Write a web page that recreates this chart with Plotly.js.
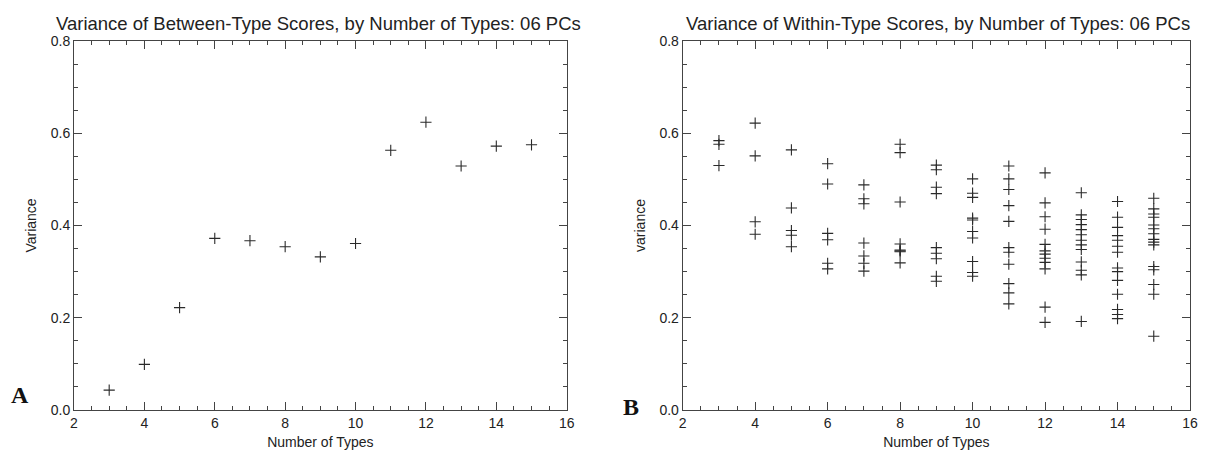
<!DOCTYPE html>
<html>
<head>
<meta charset="utf-8">
<script src="https://cdn.plot.ly/plotly-3.0.1.min.js"></script>
<style>html,body{margin:0;padding:0;background:#fff;}#chart{width:1222px;height:461px;}</style>
</head>
<body>
<div id="chart"></div>
<script>
// Panel A: variance of between-type scores
const typesA = [3, 4, 5, 6, 7, 8, 9, 10, 11, 12, 13, 14, 15];
const betweenVariance = [0.043, 0.099, 0.222, 0.372, 0.367, 0.354, 0.332, 0.361, 0.563, 0.624, 0.529, 0.572, 0.575];

// Panel B: variance of within-type scores (one value per type)
const within3 = [0.584, 0.576, 0.530];
const within4 = [0.622, 0.551, 0.408, 0.381];
const within5 = [0.564, 0.438, 0.389, 0.379, 0.354];
const within6 = [0.534, 0.490, 0.383, 0.369, 0.318, 0.306];
const within7 = [0.488, 0.458, 0.447, 0.362, 0.334, 0.318, 0.301];
const within8 = [0.576, 0.558, 0.451, 0.360, 0.347, 0.345, 0.343, 0.319];
const within9 = [0.531, 0.521, 0.483, 0.469, 0.352, 0.340, 0.328, 0.290, 0.279];
const within10 = [0.501, 0.470, 0.461, 0.416, 0.412, 0.387, 0.373, 0.322, 0.298, 0.290];
const within11 = [0.529, 0.501, 0.478, 0.443, 0.409, 0.352, 0.342, 0.316, 0.274, 0.254, 0.230];
const within12 = [0.514, 0.449, 0.419, 0.392, 0.359, 0.345, 0.338, 0.329, 0.320, 0.306, 0.223, 0.190];
const within13 = [0.471, 0.423, 0.413, 0.402, 0.391, 0.380, 0.368, 0.358, 0.348, 0.321, 0.303, 0.293, 0.192];
const within14 = [0.452, 0.418, 0.396, 0.378, 0.368, 0.355, 0.342, 0.308, 0.300, 0.281, 0.251, 0.218, 0.207, 0.198];
const within15 = [0.459, 0.436, 0.425, 0.418, 0.401, 0.393, 0.382, 0.370, 0.364, 0.358, 0.311, 0.304, 0.272, 0.251, 0.160];
const withinByType = {3: within3, 4: within4, 5: within5, 6: within6, 7: within7, 8: within8, 9: within9,
  10: within10, 11: within11, 12: within12, 13: within13, 14: within14, 15: within15};

const titleA = 'Variance of Between-Type Scores, by Number of Types: 06 PCs';
const titleB = 'Variance of Within-Type Scores, by Number of Types: 06 PCs';
const xTitle = 'Number of Types';
const yTitleA = 'Variance';
const yTitleB = 'variance';
const xTicks = [2, 4, 6, 8, 10, 12, 14, 16];
const yTicks = [0.0, 0.2, 0.4, 0.6, 0.8];
const yTickText = ['0.0', '0.2', '0.4', '0.6', '0.8'];

const bx = [], by = [];
Object.keys(withinByType).forEach(k => {
  withinByType[k].forEach(v => { bx.push(Number(k)); by.push(v); });
});

const markerStyle = {symbol: 'cross-thin', size: 8, line: {width: 1.1, color: '#2a2a2a'}, color: '#2a2a2a'};
const font = {family: 'Liberation Sans, Arial, sans-serif', color: '#222'};

const traces = [
  {x: typesA, y: betweenVariance, type: 'scatter', mode: 'markers', marker: markerStyle, xaxis: 'x', yaxis: 'y', hoverinfo: 'x+y'},
  {x: bx, y: by, type: 'scatter', mode: 'markers', marker: markerStyle, xaxis: 'x2', yaxis: 'y2', hoverinfo: 'x+y'}
];

function xax(domain, anchor) {
  return {
    domain: domain, anchor: anchor, range: [2, 16], tickvals: xTicks, ticktext: xTicks.map(String),
    ticks: 'inside', ticklen: 8, tickwidth: 1, tickcolor: '#444', mirror: 'ticks',
    minor: {dtick: 0.5, tick0: 2, ticks: 'inside', ticklen: 4, tickcolor: '#444', tickwidth: 1},
    showline: true, linecolor: '#444', linewidth: 1, showgrid: false, zeroline: false,
    tickfont: {family: font.family, size: 14, color: '#222'},
    title: {text: xTitle, font: {family: font.family, size: 14, color: '#222'}, standoff: 7}
  };
}
function yax(domain, anchor, title) {
  return {
    domain: domain, anchor: anchor, range: [0, 0.8], tickvals: yTicks, ticktext: yTickText,
    ticks: 'inside', ticklen: 8, tickwidth: 1, tickcolor: '#444', mirror: 'ticks',
    minor: {dtick: 0.05, tick0: 0, ticks: 'inside', ticklen: 4, tickcolor: '#444', tickwidth: 1},
    showline: true, linecolor: '#444', linewidth: 1, showgrid: false, zeroline: false,
    tickfont: {family: font.family, size: 14, color: '#222'},
    title: {text: title, font: {family: font.family, size: 14, color: '#222'}, standoff: 10}
  };
}

const yDom = [1 - 410 / 461, 1 - 41 / 461];
const layout = {
  width: 1222, height: 461, showlegend: false,
  paper_bgcolor: '#fff', plot_bgcolor: '#fff',
  margin: {l: 0, r: 0, t: 0, b: 0},
  font: font,
  xaxis: xax([74 / 1222, 566.7 / 1222], 'y'),
  yaxis: yax(yDom, 'x', yTitleA),
  xaxis2: xax([682.7 / 1222, 1190 / 1222], 'y2'),
  yaxis2: yax(yDom, 'x2', yTitleB),
  annotations: [
    {text: titleA, xref: 'paper', yref: 'paper', x: 318 / 1222, y: 1 - 24 / 461, xanchor: 'center', yanchor: 'middle', showarrow: false, font: {family: font.family, size: 18.5, color: '#222'}},
    {text: titleB, xref: 'paper', yref: 'paper', x: 938 / 1222, y: 1 - 24 / 461, xanchor: 'center', yanchor: 'middle', showarrow: false, font: {family: font.family, size: 18.5, color: '#222'}},
    {text: '<b>A</b>', xref: 'paper', yref: 'paper', x: 20 / 1222, y: 1 - 395 / 461, xanchor: 'center', yanchor: 'middle', showarrow: false, font: {family: 'Liberation Serif, DejaVu Serif, serif', size: 24, color: '#111'}},
    {text: '<b>B</b>', xref: 'paper', yref: 'paper', x: 631 / 1222, y: 1 - 407 / 461, xanchor: 'center', yanchor: 'middle', showarrow: false, font: {family: 'Liberation Serif, DejaVu Serif, serif', size: 24, color: '#111'}}
  ]
};

Plotly.newPlot('chart', traces, layout, {displayModeBar: false, staticPlot: true});
</script>
</body>
</html>
